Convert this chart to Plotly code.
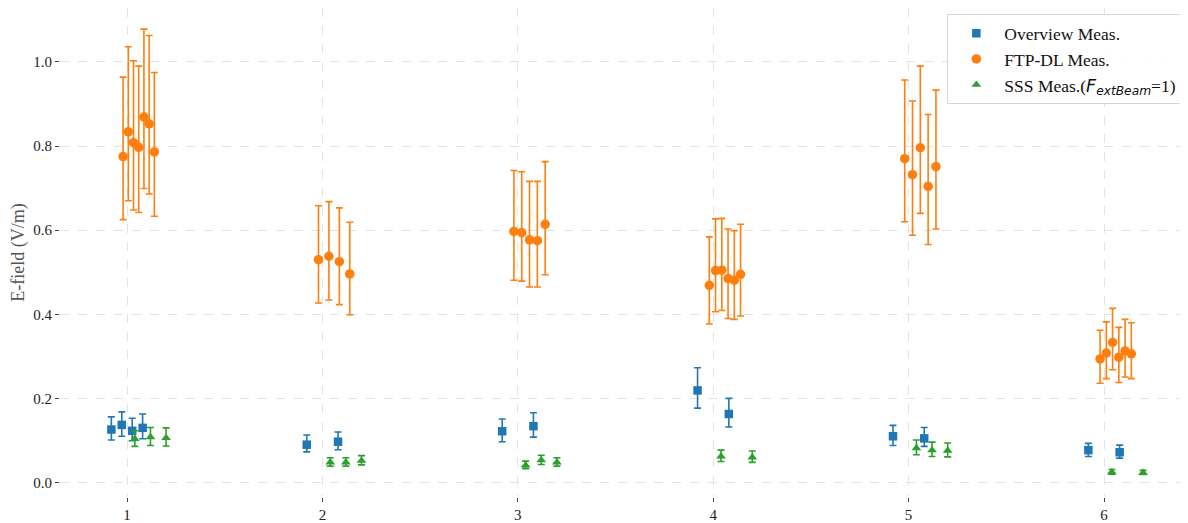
import numpy as np
import plotly.graph_objects as go

categories = [1, 2, 3, 4, 5, 6]
tick_labels = ["1", "2", "3", "4", "5", "6"]

# Overview Meas. (value, upper bound, lower bound) per category
overview_vals = [[0.126, 0.137, 0.123, 0.130], [0.090, 0.097], [0.122, 0.134],
                 [0.219, 0.163], [0.110, 0.105], [0.077, 0.072]]
overview_hi = [[0.156, 0.168, 0.153, 0.163], [0.113, 0.120], [0.151, 0.166],
               [0.273, 0.200], [0.136, 0.131], [0.093, 0.089]]
overview_lo = [[0.101, 0.110, 0.0995, 0.104], [0.073, 0.078], [0.097, 0.108],
               [0.177, 0.132], [0.088, 0.086], [0.062, 0.058]]

# FTP-DL Meas.
ftp_vals = [[0.775, 0.834, 0.808, 0.797, 0.869, 0.853, 0.786],
            [0.530, 0.538, 0.525, 0.496],
            [0.597, 0.594, 0.577, 0.575, 0.614],
            [0.469, 0.504, 0.505, 0.485, 0.481, 0.495],
            [0.770, 0.732, 0.796, 0.704, 0.751],
            [0.294, 0.308, 0.333, 0.298, 0.313, 0.306]]
ftp_hi = [[0.964, 1.036, 1.003, 0.990, 1.078, 1.063, 0.975],
          [0.658, 0.668, 0.653, 0.619],
          [0.742, 0.739, 0.716, 0.716, 0.763],
          [0.584, 0.627, 0.628, 0.603, 0.599, 0.614],
          [0.957, 0.907, 0.990, 0.875, 0.933],
          [0.362, 0.382, 0.414, 0.369, 0.388, 0.380]]
ftp_lo = [[0.625, 0.670, 0.648, 0.642, 0.699, 0.686, 0.633],
          [0.427, 0.434, 0.423, 0.399],
          [0.481, 0.479, 0.465, 0.465, 0.494],
          [0.377, 0.406, 0.409, 0.390, 0.388, 0.396],
          [0.620, 0.588, 0.640, 0.566, 0.603],
          [0.236, 0.247, 0.268, 0.238, 0.251, 0.247]]

# SSS Meas. (F_extBeam = 1)
sss_vals = [[0.104, 0.108, 0.106], [0.048, 0.048, 0.052], [0.041, 0.053, 0.048],
            [0.062, 0.060], [0.082, 0.077, 0.076], [0.025, 0.023]]
sss_hi = [[0.123, 0.131, 0.130], [0.059, 0.059, 0.064], [0.051, 0.065, 0.059],
          [0.077, 0.075], [0.101, 0.096, 0.094], [0.031, 0.029]]
sss_lo = [[0.086, 0.088, 0.087], [0.039, 0.039, 0.042], [0.033, 0.043, 0.039],
          [0.050, 0.048], [0.066, 0.062, 0.061], [0.020, 0.019]]

series = [
    dict(name="Overview Meas.", vals=overview_vals, hi=overview_hi, lo=overview_lo,
         span=(-0.08, 0.08), color="#1f77b4", symbol="square", size=8.5),
    dict(name="FTP-DL Meas.", vals=ftp_vals, hi=ftp_hi, lo=ftp_lo,
         span=(-0.02, 0.14), color="#ff7f0e", symbol="circle", size=9.5),
    dict(name="SSS Meas.(<span style='font-family:DejaVu Sans'><i>F</i><sub><i>extBeam</i></sub></span>=1)",
         vals=sss_vals, hi=sss_hi, lo=sss_lo,
         span=(0.04, 0.20), color="#2ca02c", symbol="triangle-up", size=8.5),
]

fig = go.Figure()
for s in series:
    xs, ys, ep, em = [], [], [], []
    for c, v, h, l in zip(categories, s["vals"], s["hi"], s["lo"]):
        offs = np.linspace(s["span"][0], s["span"][1], len(v))
        for o, vv, hh, ll in zip(offs, v, h, l):
            xs.append(c + o)
            ys.append(vv)
            ep.append(hh - vv)
            em.append(vv - ll)
    fig.add_trace(go.Scatter(
        x=xs, y=ys, mode="markers", name=s["name"],
        marker=dict(color=s["color"], symbol=s["symbol"], size=s["size"], line=dict(width=0)),
        error_y=dict(type="data", symmetric=False, array=ep, arrayminus=em,
                     color=s["color"], thickness=1.6, width=3.5),
    ))

grid_col = "#e3e3e3"
fig.update_layout(
    width=1180, height=515,
    margin=dict(l=52, r=0, t=0, b=25.5),
    paper_bgcolor="white", plot_bgcolor="white",
    font=dict(family="Liberation Serif", size=14, color="#222"),
    showlegend=True,
    legend=dict(x=0.995, y=0.987, xanchor="right", yanchor="top",
                bgcolor="rgba(255,255,255,0.9)", bordercolor="#d8d8d8", borderwidth=1,
                font=dict(family="Liberation Serif", size=17.5, color="#111"),
                itemwidth=46, tracegroupgap=0),
    xaxis=dict(range=[0.6571, 6.4299], tickvals=categories, ticktext=tick_labels,
               showgrid=True, gridcolor=grid_col, griddash="dash", gridwidth=1,
               zeroline=False, showline=False, ticks="outside", ticklen=4,
               tickcolor="#444", tickfont=dict(size=15)),
    yaxis=dict(range=[-0.0344, 1.1283], tickvals=[0, 0.2, 0.4, 0.6, 0.8, 1.0],
               tickformat=".1f", showgrid=True, gridcolor=grid_col, griddash="dash",
               gridwidth=1, zeroline=False, showline=False, ticks="outside", ticklen=4,
               tickcolor="#444", tickfont=dict(size=15),
               title=dict(text="E-field (V/m)", font=dict(size=18, color="#555"), standoff=12)),
)

fig.write_html("out.html")
